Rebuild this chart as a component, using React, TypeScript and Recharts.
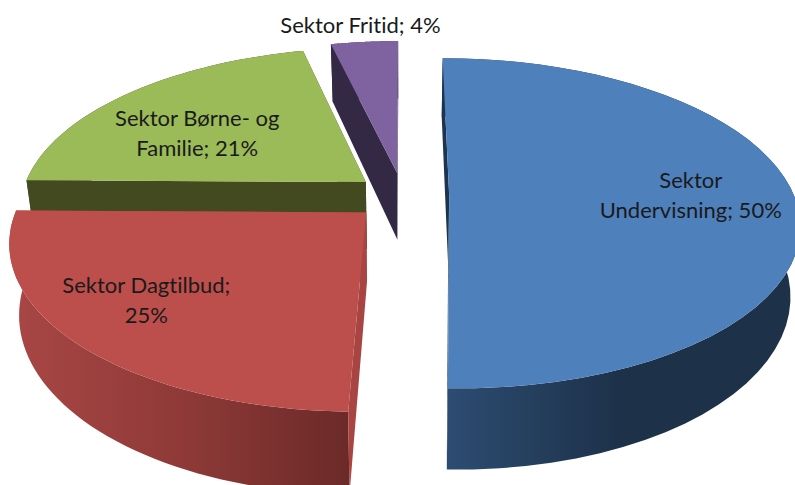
import { PieChart, Pie } from 'recharts';

// drawn back to front, so the order is purple, green, red, blue
const categories = ['Sektor Fritid', 'Sektor Børne- og Familie', 'Sektor Dagtilbud', 'Sektor Undervisning'];
const shares = [3.7, 21.1, 24.8, 50.4];
const percentLabels = ['4%', '21%', '25%', '50%'];
const labelLines = [
  ['Sektor Fritid; 4%'],
  ['Sektor Børne- og', 'Familie; 21%'],
  ['Sektor Dagtilbud;', '25%'],
  ['Sektor', 'Undervisning; 50%'],
];

const topColors = ['#7f63a1', '#9bbb59', '#bc4f4c', '#4e80bc'];
const cutColors = ['#332944', '#434a20', '#a84543', '#1d3350'];
const wallStops = [
  ['#332944', '#332944'],
  ['#434a20', '#434a20'],
  ['#a94745', '#8f3a38', '#6b2a28'],
  ['#2d4d73', '#1d3149', '#1d3149'],
];

const explosion = [0.146, 0.14, 0.146, 0.134];
const labelRadius = [1.14, 0.62, 0.75, 0.7];
const labelAngleShift = [0, 7, -3, 0.8];

// perspective tilt of the disc
const SQUASH = 0.4655;
const TILT = 0.1636;
const DEPTH = 68;
const BASE_SHRINK = 0.975;
const STEPS = 48;

const rad = (deg: number) => (deg * Math.PI) / 180;

function project(cx: number, cy: number, R: number, u: number, v: number, drop = 0) {
  const s = 1 / (1 + TILT * v);
  const shrink = drop > 0 ? BASE_SHRINK : 1;
  return [cx + R * u * s * shrink, cy - R * SQUASH * v * s + drop * s];
}

function toPath(points: number[][]) {
  return 'M' + points.map((p) => `${p[0].toFixed(1)},${p[1].toFixed(1)}`).join('L') + 'Z';
}

function sliceCenter(midAngle: number, index: number) {
  return [explosion[index] * Math.cos(rad(midAngle)), explosion[index] * Math.sin(rad(midAngle))];
}

function Slice3D(props: any) {
  const { cx, cy, outerRadius: R, startAngle, endAngle, midAngle, index } = props;
  const [ou, ov] = sliceCenter(midAngle, index);

  const rim: number[][] = [];
  for (let i = 0; i <= STEPS; i++) {
    const a = rad(startAngle + ((endAngle - startAngle) * i) / STEPS);
    rim.push([ou + Math.cos(a), ov + Math.sin(a)]);
  }
  const at = (p: number[], drop = 0) => project(cx, cy, R, p[0], p[1], drop);
  const apex = [ou, ov];
  const first = rim[0];
  const last = rim[rim.length - 1];

  const top = [at(apex), ...rim.map((p) => at(p))];
  const wall = [...rim.map((p) => at(p)), ...rim.slice().reverse().map((p) => at(p, DEPTH))];
  const cutA = [at(apex), at(first), at(first, DEPTH), at(apex, DEPTH)];
  const cutB = [at(apex), at(last), at(last, DEPTH), at(apex, DEPTH)];

  const gradId = `wall-${index}`;
  const stops = wallStops[index];
  return (
    <g>
      <defs>
        <linearGradient id={gradId} x1="0" y1="0" x2="1" y2="0">
          {stops.map((c, i) => (
            <stop key={i} offset={i / (stops.length - 1)} stopColor={c} />
          ))}
        </linearGradient>
      </defs>
      <path d={toPath(wall)} fill={`url(#${gradId})`} />
      <path d={toPath(cutA)} fill={cutColors[index]} />
      <path d={toPath(cutB)} fill={cutColors[index]} />
      <path d={toPath(top)} fill={topColors[index]} />
    </g>
  );
}

function SliceLabel(props: any) {
  const { cx, cy, outerRadius: R, midAngle, index } = props;
  const [ou, ov] = sliceCenter(midAngle, index);
  const a = rad(midAngle + labelAngleShift[index]);
  const [x, y] = project(cx, cy, R, ou + labelRadius[index] * Math.cos(a), ov + labelRadius[index] * Math.sin(a));
  const lines = labelLines[index];
  const lineHeight = 30;
  return (
    <text
      x={x}
      y={y - ((lines.length - 1) * lineHeight) / 2 + 7}
      textAnchor="middle"
      fontFamily="Lato, sans-serif"
      fontSize={22}
      fill="#1a1a1a"
      style={{ fontVariantLigatures: 'none' }}
    >
      {lines.map((line, i) => (
        <tspan key={i} x={x} dy={i === 0 ? 0 : lineHeight}>
          {line}
        </tspan>
      ))}
    </text>
  );
}

const data = categories.map((name, i) => ({ name, value: shares[i], percent: percentLabels[i] }));

export default function App() {
  return (
    <div style={{ position: 'absolute', left: 0, top: 0, width: 795, height: 485, overflow: 'hidden', background: '#fff' }}>
      <PieChart width={795} height={485} margin={{ top: 0, right: 0, bottom: 0, left: 0 }}>
        <Pie
          data={data}
          dataKey="value"
          nameKey="name"
          cx={403}
          cy={196}
          innerRadius={0}
          outerRadius={345}
          startAngle={90}
          endAngle={450}
          stroke="none"
          isAnimationActive={false}
          shape={Slice3D}
          inactiveShape={Slice3D}
          label={SliceLabel}
          labelLine={false}
        />
      </PieChart>
    </div>
  );
}
